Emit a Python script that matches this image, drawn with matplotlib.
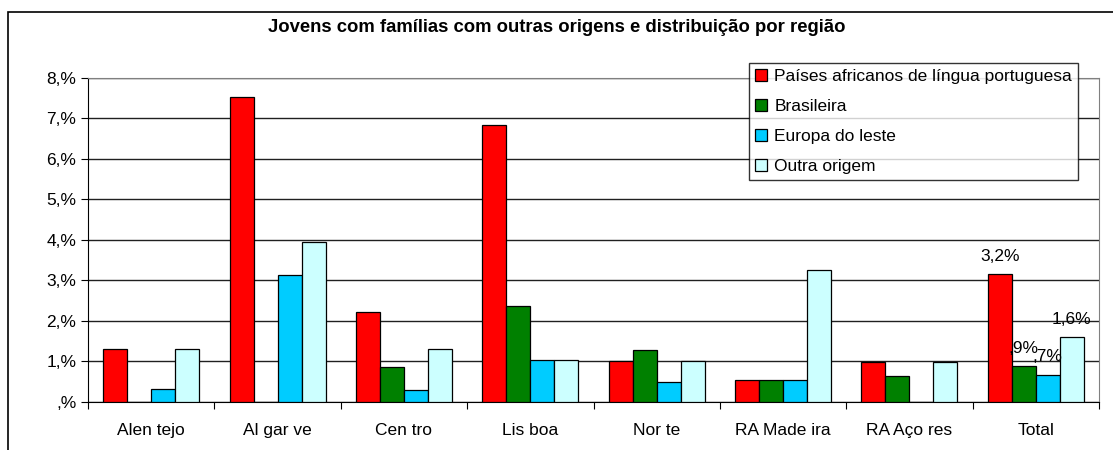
import numpy as np
import matplotlib
matplotlib.use("Agg")
import matplotlib.pyplot as plt
from matplotlib.patches import Rectangle

plt.rcParams['font.family'] = ['Liberation Sans', 'DejaVu Sans']

# --- Datos ---
regioes = ["Alen tejo", "Al gar ve", "Cen tro", "Lis boa", "Nor te",
           "RA Made ira", "RA Aço res", "Total"]
series = ["Países africanos de língua portuguesa", "Brasileira",
          "Europa do leste", "Outra origem"]
palop = [1.32, 7.52, 2.23, 6.84, 1.01, 0.54, 0.98, 3.15]
brasileira = [0.0, 0.0, 0.87, 2.37, 1.28, 0.54, 0.65, 0.88]
europa_leste = [0.33, 3.14, 0.30, 1.04, 0.50, 0.54, 0.0, 0.67]
outra = [1.32, 3.96, 1.32, 1.04, 1.01, 3.25, 0.98, 1.60]
rotulos_total = ["3,2%", ",9%", ",7%", "1,6%"]
yticks = [0, 1, 2, 3, 4, 5, 6, 7, 8]
ytick_labels = [",%", "1,%", "2,%", "3,%", "4,%", "5,%", "6,%", "7,%", "8,%"]

cores = ["#FF0000", "#008000", "#00CCFF", "#CCFFFF"]
valores = [palop, brasileira, europa_leste, outra]

FS = 12.5

# --- Figura ---
fig = plt.figure(figsize=(11.13, 4.5), dpi=100)
ax = fig.add_axes([0.0791, 0.1067, 0.9083, 0.72])

# moldura exterior
fig.patches.append(Rectangle((8 / 1113, -0.1), 1.1, 1 - 12 / 450 + 0.1,
                             transform=fig.transFigure, fill=False,
                             edgecolor='black', linewidth=1.2))

x = np.arange(len(regioes))
width = 0.19
for i, (vals, cor, nome) in enumerate(zip(valores, cores, series)):
    pos = x + (i - 1.5) * width
    ax.bar(pos, vals, width, color=cor, edgecolor='black', linewidth=0.9,
           label=nome, zorder=3)
    ax.annotate(rotulos_total[i], (pos[-1], vals[-1]), xytext=(0, 13),
                textcoords='offset points', ha='center', va='center',
                fontsize=FS, zorder=5)

ax.set_xlim(-0.5, len(regioes) - 0.5)
ax.set_ylim(0, 8)
ax.set_yticks(yticks)
ax.set_yticklabels(ytick_labels, fontsize=FS)
ax.yaxis.grid(True, color='#202020', linewidth=1, zorder=0)

ax.set_xticks(np.arange(len(regioes) + 1) - 0.5)
ax.set_xticklabels([])
ax.set_xticks(x, minor=True)
ax.set_xticklabels(regioes, minor=True, fontsize=FS)
ax.tick_params(axis='x', which='minor', length=0, pad=15)
ax.tick_params(axis='x', which='major', length=5, direction='out')
ax.tick_params(axis='y', length=5, direction='out')

ax.spines['left'].set_color('black')
ax.spines['bottom'].set_color('black')
ax.spines['top'].set_color('#808080')
ax.spines['right'].set_color('#808080')

fig.text(0.5, 1 - 27 / 450, "Jovens com famílias com outras origens e distribuição por região",
         ha='center', va='center', fontsize=13.3, fontweight='bold')

leg = ax.legend(loc='upper left', bbox_to_anchor=(749 / 1113, 1 - 63 / 450),
                bbox_transform=fig.transFigure, fontsize=FS, frameon=True,
                fancybox=False, borderpad=0.35, handlelength=0.7,
                handleheight=0.7, handletextpad=0.4, labelspacing=0.85,
                borderaxespad=0)
leg.get_frame().set_edgecolor('black')
leg.get_frame().set_linewidth(1)
leg.set_zorder(10)

plt.savefig("out.png", dpi=100)
plt.close()
